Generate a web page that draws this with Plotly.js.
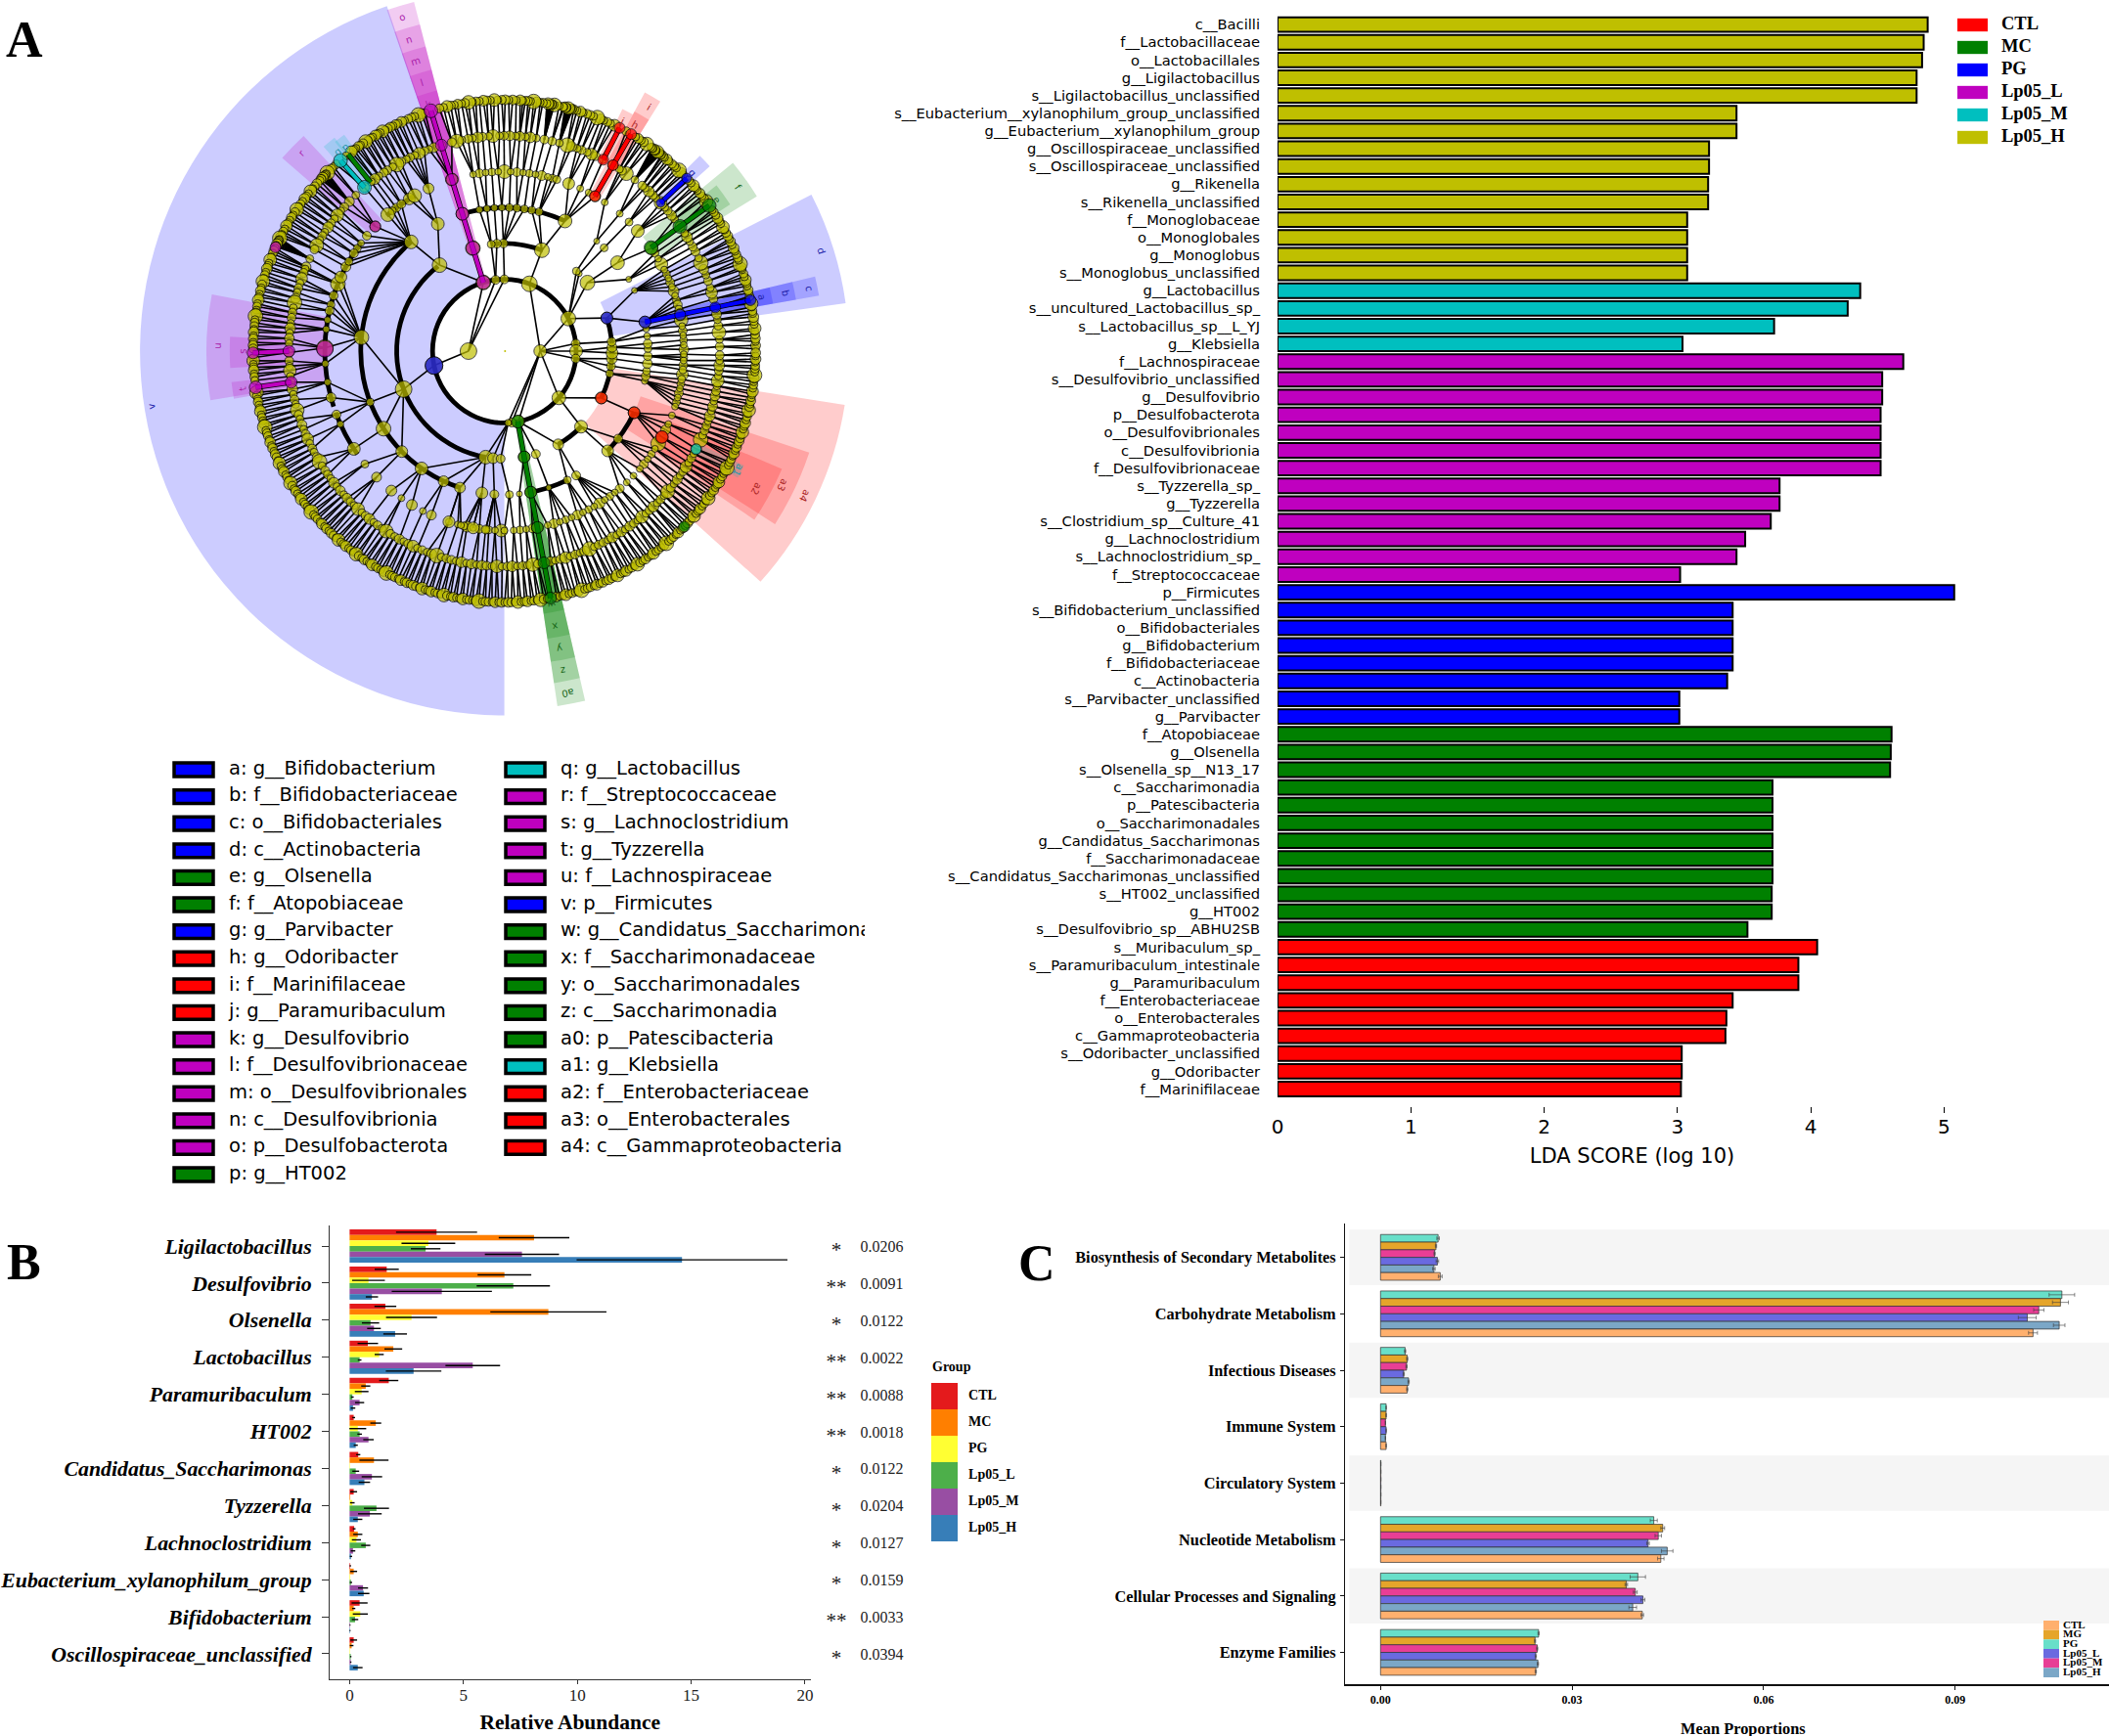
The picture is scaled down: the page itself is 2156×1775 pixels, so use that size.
<!DOCTYPE html>
<html><head><meta charset="utf-8">
<script src="https://cdn.plot.ly/plotly-3.0.1.min.js"></script>
<style>html,body{margin:0;padding:0;background:#fff;overflow:hidden;width:2156px;height:1775px}#g{position:absolute;left:0;top:-40px;width:2156px;height:1815px}</style>
</head><body><div id="g"></div><script>
// ---------- A: LDA bars ----------
const ldaNames=["c__Bacilli","f__Lactobacillaceae","o__Lactobacillales","g__Ligilactobacillus","s__Ligilactobacillus_unclassified","s__Eubacterium__xylanophilum_group_unclassified","g__Eubacterium__xylanophilum_group","g__Oscillospiraceae_unclassified","s__Oscillospiraceae_unclassified","g__Rikenella","s__Rikenella_unclassified","f__Monoglobaceae","o__Monoglobales","g__Monoglobus","s__Monoglobus_unclassified","g__Lactobacillus","s__uncultured_Lactobacillus_sp_","s__Lactobacillus_sp__L_YJ","g__Klebsiella","f__Lachnospiraceae","s__Desulfovibrio_unclassified","g__Desulfovibrio","p__Desulfobacterota","o__Desulfovibrionales","c__Desulfovibrionia","f__Desulfovibrionaceae","s__Tyzzerella_sp_","g__Tyzzerella","s__Clostridium_sp__Culture_41","g__Lachnoclostridium","s__Lachnoclostridium_sp_","f__Streptococcaceae","p__Firmicutes","s__Bifidobacterium_unclassified","o__Bifidobacteriales","g__Bifidobacterium","f__Bifidobacteriaceae","c__Actinobacteria","s__Parvibacter_unclassified","g__Parvibacter","f__Atopobiaceae","g__Olsenella","s__Olsenella_sp__N13_17","c__Saccharimonadia","p__Patescibacteria","o__Saccharimonadales","g__Candidatus_Saccharimonas","f__Saccharimonadaceae","s__Candidatus_Saccharimonas_unclassified","s__HT002_unclassified","g__HT002","s__Desulfovibrio_sp__ABHU2SB","s__Muribaculum_sp_","s__Paramuribaculum_intestinale","g__Paramuribaculum","f__Enterobacteriaceae","o__Enterobacterales","c__Gammaproteobacteria","s__Odoribacter_unclassified","g__Odoribacter","f__Marinifilaceae"];
const ldaScores=[4.877,4.847,4.835,4.794,4.794,3.443,3.443,3.237,3.237,3.23,3.23,3.073,3.073,3.073,3.073,4.371,4.277,3.725,3.038,4.694,4.536,4.536,4.524,4.524,4.524,4.524,3.766,3.766,3.70,3.508,3.443,3.02,5.076,3.414,3.414,3.414,3.414,3.373,3.014,3.014,4.606,4.60,4.595,3.713,3.713,3.713,3.713,3.713,3.713,3.707,3.707,3.525,4.048,3.907,3.907,3.414,3.367,3.36,3.032,3.032,3.026];
const ldaGroups=["Lp05_H","Lp05_H","Lp05_H","Lp05_H","Lp05_H","Lp05_H","Lp05_H","Lp05_H","Lp05_H","Lp05_H","Lp05_H","Lp05_H","Lp05_H","Lp05_H","Lp05_H","Lp05_M","Lp05_M","Lp05_M","Lp05_M","Lp05_L","Lp05_L","Lp05_L","Lp05_L","Lp05_L","Lp05_L","Lp05_L","Lp05_L","Lp05_L","Lp05_L","Lp05_L","Lp05_L","Lp05_L","PG","PG","PG","PG","PG","PG","PG","PG","MC","MC","MC","MC","MC","MC","MC","MC","MC","MC","MC","MC","CTL","CTL","CTL","CTL","CTL","CTL","CTL","CTL","CTL"];
const groupNames=["CTL","MC","PG","Lp05_L","Lp05_M","Lp05_H"];
const ldaColors={CTL:"#ff0000",MC:"#008000",PG:"#0000ff",Lp05_L:"#bf00bf",Lp05_M:"#00bfbf",Lp05_H:"#bfbf00"};
// ---------- A: cladogram legend ----------
const cladeKeyCol1=["a: g__Bifidobacterium","b: f__Bifidobacteriaceae","c: o__Bifidobacteriales","d: c__Actinobacteria","e: g__Olsenella","f: f__Atopobiaceae","g: g__Parvibacter","h: g__Odoribacter","i: f__Marinifilaceae","j: g__Paramuribaculum","k: g__Desulfovibrio","l: f__Desulfovibrionaceae","m: o__Desulfovibrionales","n: c__Desulfovibrionia","o: p__Desulfobacterota","p: g__HT002"];
const cladeKeyCol1Groups=["PG","PG","PG","PG","MC","MC","PG","CTL","CTL","CTL","Lp05_L","Lp05_L","Lp05_L","Lp05_L","Lp05_L","MC"];
const cladeKeyCol2=["q: g__Lactobacillus","r: f__Streptococcaceae","s: g__Lachnoclostridium","t: g__Tyzzerella","u: f__Lachnospiraceae","v: p__Firmicutes","w: g__Candidatus_Saccharimonas","x: f__Saccharimonadaceae","y: o__Saccharimonadales","z: c__Saccharimonadia","a0: p__Patescibacteria","a1: g__Klebsiella","a2: f__Enterobacteriaceae","a3: o__Enterobacterales","a4: c__Gammaproteobacteria"];
const cladeKeyCol2Groups=["Lp05_M","Lp05_L","Lp05_L","Lp05_L","Lp05_L","PG","MC","MC","MC","MC","MC","Lp05_M","CTL","CTL","CTL"];
// ---------- A: cladogram: angle (deg) of every node per tree depth ----------
const depth1Theta=[180,0], depth1Abund=[17,13];
const depth2Theta=[191.6,107,97,90,69.6,27,6,0,-6,-40.6,-78.7,-84,-87], depth2Abund=[18,15,9,9,16,15,9,13,9,14,13,9,7];
const depth3Theta=[200.7,127,260,264,268,287,300,315.4,334.2,348,352,356,359,2,5,17.9,39.5,46,48,69.6,90.5,94,97,107,280.6], depth3Abund=[17,15,14,11,9,9,11,13,12,8,9,11,12,10,9,12,15,6,8,15,9,9,8,15,12];
const depth4Theta=[174.5,200.8,212.7,224.4,234.8,245,252,261,266,272,276,280.6,288,296,300,316,322.4,334.6,348,350,352,355,358,1,3,6,9,11.7,25,30,38,46,50,65,76,79,82,85,88,91,94,97,100,107,117.6,130.5], depth4Abund=[15,8,15,12,13,11,11,12,9,8,6,12,6,8,9,12,9,12,7,9,8,10,9,8,9,7,7,12,6,6,14,8,6,14,8,8,8,8,8,7,7,7,7,13,13,14];
const depth5Theta=[179,155.6,162,147,150,143,136,130.5,125,120,115,107,100,96,92,88,84,80,76,73,69,65,62,59.6,56,50,46,42,35,31,27,24,21,18,11.7,8,5,2,-1,-3,-6,-9,-12,-15,-18,-21,-24,-28.6,-33,-37,-41,-44,-47,-52,-56,-60,-64,-68,-72,-76,-79.4,-83,-87,-90,-93,-96,-100,-105,-108,195,200.7,204,213,219,224.6,231,235,239,243,246,252,256,260,264,170,173,184,190], depth5Abund=[17,12,9,9,8,7,11,14,9,14,11,13,7,7,7,7,7,7,7,8,12,7,7,11,7,7,8,13,13,7,7,7,7,7,12,7,7,7,7,7,8,8,7,7,7,7,7,12,7,7,7,7,7,7,7,7,7,7,7,7,12,7,7,7,7,7,7,7,7,10,9,7,13,8,10,11,7,11,7,10,12,7,12,9,7,7,7,7];
const depth5Chain=[33,29,25.5,22.5,19.5,16.5,15,13.5,10,6.5,3.5,0.5,-2,-4.5,-7.5,-10.5,-13.5,-16.5,-26,-31,-35,-39,-50,-54,-58,-62,-66,-70,-74,-81,-85,-91,-95,-98,-102,-103,98,94,90,86,82,78,74.5,127,122,128.6,140,145,152,158,165,167];
const depth6Theta=[1.2,3.1,5,6.8,8.4,9.9,11.7,14,15.8,17.1,19,20.7,22.3,24.2,25.6,27.5,29,30.6,32,33.2,35.4,37.8,39.1,40.7,41.9,43.5,45.3,46.4,47.9,49.2,50.2,52.7,55.5,56.9,57.7,59.7,62.7,64.9,66.1,67.4,69,70.3,71.8,73,75.2,77.2,79.3,81.5,83.1,84.4,85.9,87,88.6,90.1,91.3,93,94.2,95.8,97.1,98.5,99.7,101.4,102.8,104.1,106.9,109.1,110.5,111.8,113.3,114.6,116,117.1,118.7,120,121.2,122.9,124,125.6,127,128.2,130.5,133.6,136,138,139.4,140.9,142.1,143.6,144.9,146.5,147.7,149,150.6,151.8,154.6,157,157.6,158.7,160.3,161.6,163,164.2,165.8,167,168.4,169.7,171.1,172.6,173.9,175.2,176.6,178,180.4,182.6,184,185.2,186.7,188.3,190.2,191.6,193,194.3,195.9,197.2,198.4,200,201.3,202.7,204.1,205.4,206.9,208,209.6,210.9,212.2,213.7,215,216.3,217.7,219,220.4,221.8,223.1,224.5,225.8,227.2,228.6,229.9,231.2,232.7,234,235.4,236.7,238.1,239.4,240.8,242.2,243.5,244.9,246.2,247.6,249,250.3,251.7,253,254.4,255.8,257.1,258.5,259.9,261.2,262.6,264,265.3,266.7,268,269.4,270.8,272.1,273.5,274.9,276.2,277.6,279,280.6,282.4,283.7,285.1,286.5,287.8,289.2,290.6,291.9,293.3,294.7,296,297.4,298.8,300.1,301.5,302.9,304.2,305.6,307,308.3,309.7,311.1,312.4,313.8,315.2,316.5,317.9,319.3,320.6,322,323.4,324.7,326.1,327.5,328.8,330.2,331.6,333,335.7,337,338.4,339.8,341.1,342.5,343.9,345.2,346.6,348,349.3,350.7,352.1,353.4,354.8,356.2,357.5,358.9];
// genus nodes of the sparse lower-left arc that have a visible link back to depth 5
const depth6LinkedLowerLeft=[193,195.9,198.4,201.3,204.1,206.9,209.6,212.2,215,217.7,219,223.1,224.5,227.2,231.2,235.4,236.7,240.8,243.5,246.2,249,251.7,254.4,257.1,258.5,261.2];
const depth7Theta=[0.5,1.3,2.2,2.9,3.8,4.6,5.2,6.1,6.9,7.8,8.6,9.2,10.1,10.9,12.6,13.4,14.1,15,15.7,16.5,17.2,18,18.9,19.5,20.3,21.2,21.8,22.7,23.4,24.2,25,25.9,26.5,27.3,28.1,28.8,29.6,30.5,31.2,32,32.7,33.6,34.2,36.6,37.4,38.1,38.9,39.8,40.5,41.2,42,42.8,44.6,45.3,46,46.8,47.5,48.2,49,49.7,50.4,51,51.3,51.6,51.9,52.2,52.5,52.8,53.1,53.4,53.7,54,54.3,55.5,56.3,57,57.8,58.5,61,64,65,65.8,66.7,67.5,68.3,69.2,70,70.8,71.7,72.4,73.2,74,74.25,74.5,74.75,75,75.25,75.5,75.75,76,76.25,76.5,77.4,78.5,78.75,79,79.25,79.5,79.75,80,80.25,81.2,81.8,82.6,83.3,84,84.6,85.2,85.8,86.4,87.3,88.1,89,89.8,90.6,91.5,92.3,93.2,94,94.8,95.7,96.5,97.3,98.2,99,99.8,100.7,101.5,102.3,103.2,104,105,108.4,109.2,110,110.9,111.7,112.5,113.4,114.2,115,115.7,116.3,117,117.6,118.3,119,119.6,120.3,120.9,121.6,122.2,122.9,123.5,124.2,124.9,125.5,126.2,126.8,127.5,129,132,132.8,133.6,134.8,135.1,135.4,135.7,136,136.3,136.6,136.9,137.2,138.2,139,139.7,140.5,141.2,142,142.7,143.4,144.2,144.9,145.7,146.4,147.2,147.9,148.6,149.4,150.1,150.9,151.6,152.3,153,153.3,153.6,153.9,154.2,154.5,154.8,155.1,155.4,155.8,156.5,157.2,158,158.7,159.5,160.2,160.9,161.7,162.4,163.2,163.9,164.6,165.4,166.1,166.9,167.6,168.3,169.1,169.8,170.6,171.3,172,172.8,173.5,174.3,175,175.7,176.5,177.2,178,178.7,179.4,181.5,182.2,183,183.7,184.4,185.2,185.9,186.7,189.5,190.2,191,191.7,192.4,193.2,193.9,194.7,195.4,196.1,196.9,197.6,198.4,199.1,199.8,200.6,201.3,202.1,202.8,203.5,204.3,205,205.8,206.5,207.2,208,208.7,209.5,210.2,210.9,211.7,212.4,213.2,213.9,214.6,215.4,216.1,216.9,217.6,218.3,219.1,219.8,220.6,221.3,222,222.8,223.5,224.3,225,225.7,226.5,227.2,228,228.7,229.4,230.2,230.9,231.7,232.4,233.1,233.9,234.6,235.4,236.1,236.8,237.6,238.3,239.1,239.8,240.5,241.3,242,242.8,243.5,244.2,245,245.7,246.5,247.2,247.9,248.7,249.4,250.2,250.9,251.6,252.4,253.1,253.9,254.6,255.3,256.1,256.8,257.6,258.3,259,259.8,260.5,261.3,262,262.7,263.5,264.2,265,265.7,266.4,267.2,267.9,268.7,269.4,270.1,270.9,271.6,272.4,273.1,273.8,274.6,275.3,276.1,276.8,277.5,278.3,279,279.8,282,282.7,283.5,284.2,284.9,285.7,286.4,287.2,287.9,288.6,289.4,290.1,290.9,291.6,292.3,293.1,293.8,294.6,295.3,296,296.8,297.5,298.3,299,299.7,300.5,301.2,302,302.7,303.4,304.2,304.9,305.7,306.4,307.1,307.9,308.6,309.4,310.1,310.8,311.6,312.3,313.1,313.8,314.5,315.3,316,316.8,317.5,318.2,319,319.7,320.5,321.2,321.9,322.7,323.4,324.2,324.9,325.6,326.4,327.1,327.9,328.6,329.3,330.1,330.8,331.6,332.3,333,333.8,334.5,335.3,336,336.7,337.5,338.2,339,339.7,340.4,341.2,341.9,342.7,343.4,344.1,344.9,345.6,346.4,347.1,347.8,348.6,349.3,350.1,350.8,351.5,352.3,353,353.8,354.5,355.2,356,356.7,357.5,358.2,358.9,359.6];
// relative node sizes along the two outer rings
const outerAbund=[8,10,8,10,9,8,13,8,9,11,8,9,8,14,9,8,10,8,9,12,8,9,8,10,15,8,9,9,8,11];
// thick connecting arcs [depth, from, to]
const arcDepth=[2,3,3,3,4,4,4,5,5,5,3,4];
const arcFrom=[0,128,300,69,130,65,279,143,200,120,334,316];
const arcTo=[360,260,316,97,252,105,296,198,215,131,378,335];
// highlighted clades: wedge angle limits and depths
const wedgeNames=["v","d","a4","o","n","m","l","k","a0","z","y","x","w","c","b","a","a3","a2","a1","f","e","g","i","h","j","q","p","r","u","s","t"];
const wedgeFrom=[108.8,8,318,104.5,104.5,104.5,104.5,104.5,278.5,278.5,278.5,278.5,278.5,10,10,10,327.4,326,331.5,31.5,33,42,58,58,61.5,128.5,126.5,133,169,177,186.5];
const wedgeTo=[270,27,351,109,109,109,109,109,283,283,283,283,283,13.5,13.5,13.5,341.6,337,334.5,39.5,38,45,61.5,61.5,64,131.5,129,139,189.5,183.5,190];
const wedgeInner=[2,3,3,2,3,4,5,6,2,3,4,5,6,4,5,6,4,5,6,5,6,6,5,6,6,6,6,5,5,6,6];
const wedgeOuter=[10.15,9.6,9.6,10.05,9.4,8.77,8.1,7.5,10,9.35,8.75,8.1,7.4,8.9,8.25,7.6,8.95,8.4,7.4,8.25,7.5,7.7,8.2,7.6,7.5,7.6,7.5,8.2,8.3,7.65,7.65];
const wedgeGroups=["PG","PG","CTL","Lp05_L","Lp05_L","Lp05_L","Lp05_L","Lp05_L","MC","MC","MC","MC","MC","PG","PG","PG","CTL","CTL","Lp05_M","MC","MC","PG","CTL","CTL","CTL","Lp05_M","Lp05_M","Lp05_L","Lp05_L","Lp05_L","Lp05_L"];
const labelDepth=[9.96,9.27,9.3,9.73,9.07,8.45,7.82,7.2,9.7,9.05,8.42,7.8,7.17,8.67,8.0,7.33,8.6,8.0,7.3,7.94,7.27,7.23,7.9,7.27,7.2,7.25,7.2,7.9,7.98,7.3,7.38];
const labelTheta=[189,17.6,334.3,107,107,107,107,107,280.5,280.5,280.5,280.5,280.6,11.5,11.7,11.9,334.2,331.2,333,35,35.5,43.6,59.3,60,63,130,128,135.7,179,180,188.3];
// coloured clade paths: group, depth list, theta list
const clades=[
 {g:"PG",d:[4,5,6,7],t:[11.7,11.7,11.7,11.7],a:[12,11,11,11]},
 {g:"PG",d:[3],t:[17.9],a:[12]},
 {g:"PG",d:[2],t:[191.6],a:[18]},
 {g:"PG",d:[6,7],t:[43.5,43.5],a:[9,10]},
 {g:"MC",d:[2,3,4,5,6,7],t:[280.8,280.6,280.6,280.6,280.6,280.6],a:[13,12,12,12,12,12]},
 {g:"MC",d:[5,6,7],t:[35.2,35.4,35.4],a:[14,14,14]},
 {g:"MC",d:[7],t:[315.7],a:[11]},
 {g:"MC",d:[6,7],t:[128.4,128.4],a:[0,0]},
 {g:"Lp05_L",d:[2,3,4,5,6,7],t:[107,107,107,107,107,107],a:[14,14,13,12,12,14]},
 {g:"Lp05_L",d:[5],t:[136],a:[11]},
 {g:"Lp05_L",d:[5],t:[179.3],a:[17]},
 {g:"Lp05_L",d:[6,7],t:[180,180.4],a:[12,12]},
 {g:"Lp05_L",d:[6,7],t:[188.3,188.3],a:[12,13]},
 {g:"Lp05_L",d:[7],t:[155.6],a:[11]},
 {g:"Lp05_M",d:[6,7],t:[130.5,130.7],a:[14,14]},
 {g:"Lp05_M",d:[6],t:[332.9],a:[11]},
 {g:"CTL",d:[5,6,7],t:[59.7,59.7,59.7],a:[11,11,11]},
 {g:"CTL",d:[6,7],t:[62.7,62.7],a:[11,11]},
 {g:"CTL",d:[3],t:[334.2],a:[12]},
 {g:"CTL",d:[4],t:[334.6],a:[12]},
 {g:"CTL",d:[5],t:[331.4],a:[13]}
];
// ---------- B ----------
const genera=["Ligilactobacillus","Desulfovibrio","Olsenella","Lactobacillus","Paramuribaculum","HT002","Candidatus_Saccharimonas","Tyzzerella","Lachnoclostridium","Eubacterium_xylanophilum_group","Bifidobacterium","Oscillospiraceae_unclassified"];
const stars=["*","**","*","**","**","**","*","*","*","*","**","*"];
const pvalues=["0.0206","0.0091","0.0122","0.0022","0.0088","0.0018","0.0122","0.0204","0.0127","0.0159","0.0033","0.0394"];
const abundCTL=[3.82,1.63,1.57,0.8,1.72,0.18,0.38,0.18,0.2,0.03,0.44,0.18];
const abundMC=[8.1,6.8,8.73,1.92,0.71,1.15,1.07,0.03,0.36,0.18,0.18,0.09];
const abundPG=[3.46,0.83,2.72,1.3,0.53,0.36,0.02,0.12,0.3,0.03,0.47,0.02];
const abundL=[3.34,7.19,0.92,0.44,0.12,0.44,0.27,1.18,0.71,0.06,0.24,0.05];
const abundM=[7.57,4.05,1.07,5.41,0.44,0.83,0.98,0.89,0.15,0.59,0.02,0.05];
const abundH=[14.6,0.98,2.0,2.81,0.15,0.27,0.65,0.36,0.06,0.62,0.02,0.36];
const errCTL=[1.78,0.53,0.48,0.45,0.42,0.06,0.09,0.15,0.06,0.03,0.35,0.15];
const errMC=[1.55,1.18,2.55,0.39,0.2,0.24,0.64,0,0.2,0.15,0.07,0.08];
const errPG=[1.18,0.72,1.12,0.2,0.3,0.37,0,0.1,0.2,0,0.33,0];
const errL=[0.65,1.61,0.38,0.08,0.06,0.1,0.15,0.55,0.2,0.05,0.14,0.03];
const errM=[1.63,2.2,0.3,1.2,0.2,0.23,0.45,0.52,0.1,0.22,0.02,0.03];
const errH=[4.63,0.27,0.52,1.22,0.1,0.09,0.25,0.2,0.05,0.25,0.02,0.21];
const bColors=["#E41A1C","#FF7F00","#FFFF33","#4DAF4A","#984EA3","#377EB8"];
// ---------- C ----------
const pathways=["Biosynthesis of Secondary Metabolites","Carbohydrate Metabolism","Infectious Diseases","Immune System","Circulatory System","Nucleotide Metabolism","Cellular Processes and Signaling","Enzyme Families"];
const cGroupsLegend=["CTL","MG","PG","Lp05_L","Lp05_M","Lp05_H"];
const cColorsLegend=["#FFB06E","#E5A52A","#68DFC9","#6A6AE0","#E83E95","#7BA7C7"];
const propPG=[0.00902,0.10672,0.00385,0.00088,0.00005,0.0428,0.0403,0.02476];
const propMG=[0.00869,0.1065,0.00418,0.00088,0.00005,0.0442,0.0385,0.0242];
const propM=[0.00847,0.1031,0.00407,0.00077,0.00005,0.0435,0.0399,0.02454];
const propL=[0.00891,0.1013,0.00363,0.00088,0.00005,0.0419,0.0411,0.02432];
const propH=[0.00836,0.1063,0.0044,0.00077,0.00005,0.0449,0.0395,0.02465];
const propCTL=[0.00935,0.1022,0.00418,0.00088,0.00005,0.0439,0.041,0.02432];
const pErrPG=[0.0002,0.002,0.0001,0.00002,0,0.00055,0.0012,0.0001];
const pErrMG=[0.0001,0.00125,0.0001,0.00002,0,0.0003,0.0002,0.0001];
const pErrM=[0.0001,0.0008,0.0001,0.00002,0,0.0005,0.0003,0.0001];
const pErrL=[0.0002,0.0014,0.0001,0.00002,0,0.0002,0.0003,0.0001];
const pErrH=[0.0002,0.0009,0.0001,0.00002,0,0.0009,0.0006,0.0001];
const pErrCTL=[0.0003,0.0007,0.0001,0.00002,0,0.0005,0.0002,0.0001];

// ---------- layout helpers ----------
const W=2156,TOP=40,FH=1815;
const dx=(a,b)=>[a/W,b/W];
const dy=(a,b)=>[1-(b+TOP)/FH,1-(a+TOP)/FH];
const SERIF="Liberation Serif",SANS="DejaVu Sans";
const hidden={visible:false,showgrid:false,zeroline:false,fixedrange:true};
const traces=[];
const range=n=>Array.from({length:n},(_,i)=>i);

// ---- cladogram ----
const CX=515.6,CY=359,UNIT=36.7;
const rgba=(hex,a)=>{const n=parseInt(hex.slice(1),16);return `rgba(${n>>16},${(n>>8)&255},${n&255},${a})`;};
traces.push({type:"barpolar",subplot:"polar",hoverinfo:"skip",
 theta:wedgeFrom.map((f,i)=>(f+wedgeTo[i])/2),width:wedgeFrom.map((f,i)=>wedgeTo[i]-f),
 base:wedgeInner,r:wedgeOuter.map((o,i)=>o-wedgeInner[i]),
 marker:{color:wedgeGroups.map(g=>rgba(ldaColors[g],0.2)),line:{width:0}},showlegend:false});
traces.push({type:"barpolar",subplot:"polar",hoverinfo:"skip",
 theta:arcFrom.map((f,i)=>(f+arcTo[i])/2),width:arcFrom.map((f,i)=>arcTo[i]-f),
 base:arcDepth.map(d=>d-0.065),r:arcDepth.map(()=>0.13),
 marker:{color:"#000",line:{width:0}},showlegend:false});
const fullDepth5=[...depth5Theta,...depth5Chain];
const levels=[[0,[0]],[1,depth1Theta],[2,depth2Theta],[3,depth3Theta],[4,depth4Theta],[5,fullDepth5],[6,depth6Theta],[7,depth7Theta]];
const angDist=(a,b)=>{let d=Math.abs(((a-b)%360+360)%360);return d>180?360-d:d;};
const sr=[],st=[];
for(let l=2;l<=7;l++){
 for(const t of levels[l][1]){
  if(l===6 && t>192 && t<262 && !depth6LinkedLowerLeft.includes(t)) continue;
  let best=levels[l-1][1][0];
  for(const p of levels[l-1][1]) if(angDist(p,t)<angDist(best,t)) best=p;
  sr.push(l-1,l,null);st.push(best,t,null);
 }
}
traces.push({type:"scatterpolar",subplot:"polar",mode:"lines",r:sr,theta:st,line:{color:"#000",width:1.6},hoverinfo:"skip",showlegend:false,connectgaps:false});
const yel=ldaColors.Lp05_H;
const nodeTrace=(d,t,size)=>({type:"scatterpolar",subplot:"polar",mode:"markers",r:t.map(()=>d),theta:t,marker:{color:yel,size,line:{color:"#000",width:1}},hoverinfo:"skip",showlegend:false});
const outerSizes=(t,k)=>t.map((_,i)=>outerAbund[(i+k)%outerAbund.length]);
traces.push(nodeTrace(7,depth7Theta,outerSizes(depth7Theta,0)),nodeTrace(6,depth6Theta,outerSizes(depth6Theta,11)),
 nodeTrace(5,depth5Chain,depth5Chain.map((_,i)=>outerAbund[(i+5)%outerAbund.length])),
 nodeTrace(5,depth5Theta,depth5Abund),nodeTrace(4,depth4Theta,depth4Abund),nodeTrace(3,depth3Theta,depth3Abund),nodeTrace(2,depth2Theta,depth2Abund),nodeTrace(1,depth1Theta,depth1Abund));
traces.push({type:"scatterpolar",subplot:"polar",mode:"markers",r:[0.02],theta:[0],marker:{color:yel,size:2},hoverinfo:"skip",showlegend:false});
for(const c of clades){
 if(c.d.length>1){
  traces.push({type:"scatterpolar",subplot:"polar",mode:"lines",r:c.d,theta:c.t,line:{color:"#000",width:5.5},hoverinfo:"skip",showlegend:false});
  traces.push({type:"scatterpolar",subplot:"polar",mode:"lines",r:c.d,theta:c.t,line:{color:ldaColors[c.g],width:4},hoverinfo:"skip",showlegend:false});
 }
 traces.push({type:"scatterpolar",subplot:"polar",mode:"markers",r:c.d,theta:c.t,marker:{color:ldaColors[c.g],size:c.a,line:{color:"#000",width:1}},hoverinfo:"skip",showlegend:false});
}
const darkText={CTL:"#aa2222",MC:"#156515",PG:"#2222aa",Lp05_L:"#aa22aa",Lp05_M:"#2299aa",Lp05_H:"#999900"};
const wedgeLabels=wedgeNames.map((n,i)=>{const a=labelTheta[i]*Math.PI/180,rr=labelDepth[i]*UNIT;
 return {text:n,xref:"paper",yref:"paper",x:(CX+rr*Math.cos(a))/W,y:1-(CY-rr*Math.sin(a)+TOP)/FH,xanchor:"center",yanchor:"middle",showarrow:false,textangle:90-labelTheta[i],font:{family:SANS,size:10,color:darkText[wedgeGroups[i]]}};});

// ---- LDA bars ----
traces.push({type:"bar",orientation:"h",xaxis:"x",yaxis:"y",y:ldaNames,x:ldaScores,width:0.82,offset:-0.41,marker:{color:ldaGroups.map(g=>ldaColors[g]),line:{color:"#000",width:2}},hoverinfo:"skip",showlegend:false});

// ---- cladogram key ----
const keyRows=[...cladeKeyCol1.map((_,i)=>i),...cladeKeyCol2.map((_,i)=>i)];
const keyCols=[...cladeKeyCol1.map(()=>6),...cladeKeyCol2.map(()=>345)];
const keyGroups=[...cladeKeyCol1Groups,...cladeKeyCol2Groups];
traces.push({type:"bar",orientation:"h",xaxis:"x2",yaxis:"y2",y:keyRows,x:keyRows.map(()=>40),base:keyCols.map(c=>c+2),width:0.5,offset:-0.25,marker:{color:keyGroups.map(g=>ldaColors[g]),line:{color:"#000",width:3.5}},hoverinfo:"skip",showlegend:false});
traces.push({type:"scatter",mode:"text",xaxis:"x2",yaxis:"y2",y:keyRows,x:keyCols.map(c=>c+58),text:[...cladeKeyCol1,...cladeKeyCol2],textposition:"middle right",textfont:{family:SANS,size:19.5,color:"#000"},hoverinfo:"skip",showlegend:false,cliponaxis:true});

// ---- LDA legend ----
traces.push({type:"bar",orientation:"h",xaxis:"x3",yaxis:"y3",y:range(6),x:range(6).map(()=>1),width:0.58,offset:-0.29,marker:{color:groupNames.map(g=>ldaColors[g]),line:{width:0}},hoverinfo:"skip",showlegend:false});
traces.push({type:"scatter",mode:"text",xaxis:"x3",yaxis:"y3",y:range(6),x:range(6).map(()=>1.45),text:groupNames,textposition:"middle right",textfont:{family:SERIF,size:18.5,color:"#000",weight:700},cliponaxis:false,hoverinfo:"skip",showlegend:false});

// ---- B bars ----
const bSeries=[abundCTL,abundMC,abundPG,abundL,abundM,abundH],bErr=[errCTL,errMC,errPG,errL,errM,errH];
const bG=0.893,bS=bG/6;
bSeries.forEach((v,i)=>traces.push({type:"bar",orientation:"h",xaxis:"x4",yaxis:"y4",y:genera,x:v,width:bS,offset:-bG/2+i*bS,marker:{color:bColors[i],line:{width:0}},
 error_x:{type:"data",array:bErr[i],visible:true,color:"#000",thickness:1.4,width:0},hoverinfo:"skip",showlegend:false}));
traces.push({type:"scatter",mode:"text",xaxis:"x8",yaxis:"y9",y:genera,x:genera.map(()=>0.18),text:stars,textfont:{family:SERIF,size:21,color:"#222"},hoverinfo:"skip",showlegend:false});
traces.push({type:"scatter",mode:"text",xaxis:"x8",yaxis:"y8",y:genera,x:genera.map(()=>0.645),text:pvalues,textfont:{family:SERIF,size:16,color:"#222"},hoverinfo:"skip",showlegend:false});

// ---- B legend ----
traces.push({type:"bar",orientation:"h",xaxis:"x5",yaxis:"y5",y:range(6),x:range(6).map(()=>1),width:1,offset:-0.5,marker:{color:bColors,line:{width:0}},hoverinfo:"skip",showlegend:false});
traces.push({type:"scatter",mode:"text",xaxis:"x5",yaxis:"y5",y:range(6),x:range(6).map(()=>1.41),text:groupNames,textposition:"middle right",textfont:{family:SERIF,size:14,color:"#000",weight:700},cliponaxis:false,hoverinfo:"skip",showlegend:false});

// ---- C bars ----
const cOrder=[2,1,4,3,5,0];
const cSeries=[propPG,propMG,propM,propL,propH,propCTL],cErr=[pErrPG,pErrMG,pErrM,pErrL,pErrH,pErrCTL];
const cG=0.81,cS=cG/6;
cSeries.forEach((v,i)=>traces.push({type:"bar",orientation:"h",xaxis:"x6",yaxis:"y6",y:pathways,x:v,width:cS,offset:-cG/2+i*cS,marker:{color:cColorsLegend[cOrder[i]],line:{color:"rgba(50,50,50,0.7)",width:1}},
 error_x:{type:"data",array:cErr[i],visible:true,color:"rgba(60,60,60,0.75)",thickness:0.8,width:2},hoverinfo:"skip",showlegend:false}));
// ---- C legend ----
traces.push({type:"bar",orientation:"h",xaxis:"x7",yaxis:"y7",y:range(6),x:range(6).map(()=>1),width:1,offset:-0.5,marker:{color:cColorsLegend,line:{width:0}},hoverinfo:"skip",showlegend:false});
traces.push({type:"scatter",mode:"text",xaxis:"x7",yaxis:"y7",y:range(6),x:range(6).map(()=>1.25),text:cGroupsLegend,textposition:"middle right",textfont:{family:SERIF,size:11,color:"#000",weight:700},cliponaxis:false,hoverinfo:"skip",showlegend:false});

const bands=[0,2,4,6].map(i=>({type:"rect",layer:"below",xref:"x6 domain",yref:"y6",x0:0.005,x1:1,y0:i-0.49,y1:i+0.49,fillcolor:"#f5f5f5",line:{width:0}}));
const panelLabel=(t,x,y)=>({text:t,xref:"paper",yref:"paper",x:x/W,y:1-(y+TOP)/FH,xanchor:"left",yanchor:"middle",showarrow:false,font:{family:SERIF,size:52,color:"#000",weight:700}});
const bYRange=[11.686,-0.554];
const layout={width:W,height:FH,margin:{l:0,r:0,t:0,b:0},paper_bgcolor:"#fff",plot_bgcolor:"rgba(0,0,0,0)",showlegend:false,
 font:{family:SERIF,color:"#000"},barmode:"overlay",
 polar:{domain:{x:dx(CX-389,CX+389),y:dy(CY-389,CY+389)},bgcolor:"rgba(0,0,0,0)",barmode:"overlay",
  radialaxis:{visible:false,range:[0,389/UNIT]},angularaxis:{visible:false,direction:"counterclockwise",rotation:0,thetaunit:"degrees"}},
 xaxis:{domain:dx(1306,2031),range:[0,5.32],anchor:"y",showgrid:false,zeroline:false,showline:false,ticks:"inside",ticklen:6,tickcolor:"#000",tickvals:[0,1,2,3,4,5],tickfont:{family:SANS,size:20},
  title:{text:"LDA SCORE (log 10)",font:{family:SANS,size:21},standoff:11},automargin:false},
 yaxis:{domain:dy(16,1137.5),anchor:"x",type:"category",categoryorder:"array",categoryarray:ldaNames,range:[61.32,-0.5],showgrid:false,zeroline:false,showline:false,ticks:"",tickmode:"array",tickvals:ldaNames,ticktext:ldaNames,tickfont:{family:SANS,size:14.7},ticklabelstandoff:17,automargin:false},
 xaxis2:{...hidden,domain:dx(170,884),range:[0,714],anchor:"y2"},
 yaxis2:{...hidden,domain:dy(773.2,1214.8),range:[15.5,-0.5],anchor:"x2"},
 xaxis3:{...hidden,domain:dx(2001,2156),range:[0,5],anchor:"y3"},
 yaxis3:{...hidden,domain:dy(14,152),range:[5.5,-0.5],anchor:"x3"},
 xaxis4:{domain:dx(337,828.5),range:[-0.876,20.24],anchor:"y4",showgrid:false,zeroline:false,showline:true,linecolor:"#333",linewidth:1,ticks:"outside",ticklen:4,tickcolor:"#333",tickvals:[0,5,10,15,20],tickfont:{family:SERIF,size:17,color:"#222"},ticklabelstandoff:-3,
  title:{text:"Relative Abundance",font:{family:SERIF,size:21.5,weight:700},standoff:10},automargin:false},
 yaxis4:{domain:dy(1253,1717),anchor:"x4",type:"category",categoryorder:"array",categoryarray:genera,range:bYRange,showgrid:false,zeroline:false,showline:true,linecolor:"#333",linewidth:1,ticks:"outside",ticklen:7,tickcolor:"#333",tickmode:"array",tickvals:genera,ticktext:genera,tickfont:{family:SERIF,size:21.8,weight:700,style:"italic"},ticklabelstandoff:6,automargin:false},
 xaxis5:{...hidden,domain:dx(952,1060),range:[0,4],anchor:"y5"},
 yaxis5:{...hidden,domain:dy(1414,1576),range:[5.5,-0.5],anchor:"x5"},
 xaxis6:{domain:dx(1375.4,2156),range:[-0.0055,0.1141],anchor:"y6",showgrid:false,zeroline:false,showline:true,linecolor:"#111",linewidth:1.5,ticks:"outside",ticklen:4,tickcolor:"#111",tickvals:[0,0.03,0.06,0.09],ticktext:["0.00","0.03","0.06","0.09"],tickfont:{family:SERIF,size:12,weight:700},automargin:false},
 yaxis6:{domain:dy(1251,1722),anchor:"x6",type:"category",categoryorder:"array",categoryarray:pathways,range:[7.563,-0.6],showgrid:false,zeroline:false,showline:true,linecolor:"#111",linewidth:1.5,ticks:"outside",ticklen:4,tickcolor:"#111",tickmode:"array",tickvals:pathways,ticktext:pathways,tickfont:{family:SERIF,size:16.3,weight:700},ticklabelstandoff:1,automargin:false},
 xaxis7:{...hidden,domain:dx(2089,2156),range:[0,4.1875],anchor:"y7"},
 yaxis7:{...hidden,domain:dy(1657,1715),range:[5.5,-0.5],anchor:"x7"},
 xaxis8:{...hidden,domain:dx(837,937),range:[0,1],anchor:"y8"},
 yaxis8:{...hidden,domain:dy(1255,1719),anchor:"x8",type:"category",categoryorder:"array",categoryarray:genera,range:bYRange},
 yaxis9:{...hidden,domain:dy(1259,1723),anchor:"x8",type:"category",categoryorder:"array",categoryarray:genera,range:bYRange},
 shapes:bands,
 annotations:[panelLabel("A",4,40),panelLabel("B",5,1290),panelLabel("C",1039,1291),...wedgeLabels,
  {text:"Group",xref:"paper",yref:"paper",x:973/W,y:1-(1397+TOP)/FH,xanchor:"center",yanchor:"middle",showarrow:false,font:{family:SERIF,size:14,weight:700}},
  {text:"Mean Proportions",xref:"paper",yref:"paper",x:1782/W,y:1-(1767+TOP)/FH,xanchor:"center",yanchor:"middle",showarrow:false,font:{family:SERIF,size:16.4,weight:700}}]
};
Plotly.newPlot("g",traces,layout,{staticPlot:true,displayModeBar:false});
</script></body></html>
